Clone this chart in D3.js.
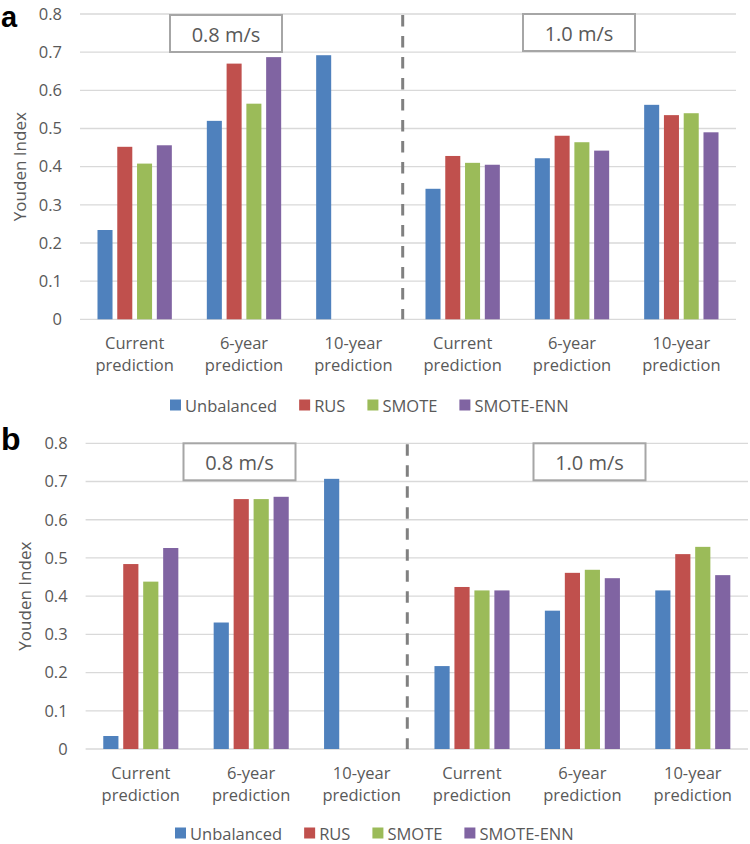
<!DOCTYPE html>
<html>
<head>
<meta charset="utf-8">
<script src="https://cdn.jsdelivr.net/npm/d3@7"></script>
<style>
  html, body { margin: 0; padding: 0; background: #ffffff; }
  svg { display: block; }
</style>
</head>
<body>
<svg id="chart" width="750" height="844"></svg>
<script>
// ---------- DATA ----------
const categories = ["Current prediction", "6-year prediction", "10-year prediction",
                    "Current prediction", "6-year prediction", "10-year prediction"];
const speedLabels = ["0.8 m/s", "1.0 m/s"];
const seriesNames = ["Unbalanced", "RUS", "SMOTE", "SMOTE-ENN"];
const yTicks = [0, 0.1, 0.2, 0.3, 0.4, 0.5, 0.6, 0.7, 0.8];

// Panel a
const aUnbalanced = [0.234, 0.520, 0.692, 0.342, 0.422, 0.562];
const aRUS        = [0.452, 0.670, null,  0.428, 0.481, 0.535];
const aSMOTE      = [0.408, 0.565, null,  0.410, 0.464, 0.540];
const aSMOTEENN   = [0.456, 0.687, null,  0.405, 0.442, 0.490];
// Panel b
const bUnbalanced = [0.034, 0.331, 0.707, 0.217, 0.362, 0.415];
const bRUS        = [0.484, 0.654, null,  0.424, 0.461, 0.510];
const bSMOTE      = [0.438, 0.654, null,  0.415, 0.469, 0.529];
const bSMOTEENN   = [0.526, 0.660, null,  0.415, 0.447, 0.455];

// ---------- STYLE ----------
const colors = ["#4F81BD", "#C0504D", "#9BBB59", "#8064A2"];
const textColor = "#595959";
const gridColor = "#d9d9d9";
const font = "'Open Sans', 'Noto Sans', sans-serif";

const panels = [
  { letter: "a", series: [aUnbalanced, aRUS, aSMOTE, aSMOTEENN],
    left: 80, right: 736, top: 14, bottom: 319.3, letterY: 26.5, letterSize: 29,
    dividerOffset: -5.3, boxes: [{x: 170, y: 15}, {x: 523, y: 14}],
    legendX: 170, legendY: 405 },
  { letter: "b", series: [bUnbalanced, bRUS, bSMOTE, bSMOTEENN],
    left: 85.6, right: 748, top: 443.3, bottom: 749, letterY: 450, letterSize: 32,
    dividerOffset: -9.5, boxes: [{x: 183.5, y: 443.3}, {x: 533.5, y: 443.3}],
    legendX: 175, legendY: 833 }
];

const svg = d3.select("#chart");

panels.forEach(p => {
  const g = svg.append("g");
  const idx = d3.range(categories.length);

  const x0 = d3.scaleBand().domain(idx).range([p.left, p.right])
    .paddingInner(0.32).paddingOuter(0.16);
  const x1 = d3.scaleBand().domain(d3.range(seriesNames.length))
    .range([0, x0.bandwidth()]).paddingInner(0.24).paddingOuter(0);
  const y = d3.scaleLinear().domain([0, 0.8]).range([p.bottom, p.top]);

  // gridlines
  g.append("g").selectAll("line").data(yTicks).join("line")
    .attr("x1", p.left).attr("x2", p.right)
    .attr("y1", d => y(d)).attr("y2", d => y(d))
    .attr("stroke", gridColor).attr("stroke-width", 1.3);

  // y axis labels via d3 axis
  const yAxis = d3.axisLeft(y).tickValues(yTicks).tickFormat(d => d === 0 ? "0" : d3.format(".1f")(d))
    .tickSize(0).tickPadding(18);
  const ya = g.append("g").attr("transform", `translate(${p.left},0)`).call(yAxis);
  ya.select(".domain").remove();
  ya.selectAll("text").attr("fill", textColor).style("font-family", font).style("font-size", "16.5px");

  // y title
  g.append("text")
    .attr("transform", `translate(${p.left - 61},${(p.top + p.bottom) / 2}) rotate(-90)`)
    .attr("text-anchor", "middle").attr("dominant-baseline", "central")
    .attr("fill", textColor).style("font-family", font).style("font-size", "17px")
    .text("Youden Index");

  // bars
  const barData = [];
  p.series.forEach((vals, si) => vals.forEach((v, ci) => {
    if (v !== null) barData.push({ si, ci, v });
  }));
  g.append("g").selectAll("rect").data(barData).join("rect")
    .attr("x", d => x0(d.ci) + x1(d.si))
    .attr("width", x1.bandwidth())
    .attr("y", d => y(d.v))
    .attr("height", d => y(0) - y(d.v))
    .attr("fill", d => colors[d.si]);

  // category labels (two lines)
  const cl = g.append("g").selectAll("text").data(idx).join("text")
    .attr("text-anchor", "middle")
    .attr("fill", textColor).style("font-family", font).style("font-size", "16.5px");
  cl.each(function(ci) {
    const s = categories[ci];
    const k = s.indexOf(" ");
    const cx = x0(ci) + x0.bandwidth() / 2;
    d3.select(this).append("tspan").attr("x", cx).attr("y", p.bottom + 30).text(s.slice(0, k));
    d3.select(this).append("tspan").attr("x", cx).attr("y", p.bottom + 52).text(s.slice(k + 1));
  });

  // dashed divider between the two speeds
  const divX = x0(3) - (x0.step() - x0.bandwidth()) / 2 + p.dividerOffset;
  g.append("line")
    .attr("x1", divX).attr("x2", divX)
    .attr("y1", p.top + 1).attr("y2", p.bottom)
    .attr("stroke", "#808080").attr("stroke-width", 3)
    .attr("stroke-dasharray", "11.5,9.5");

  // speed label boxes
  p.boxes.forEach((b, i) => {
    g.append("rect").attr("x", b.x).attr("y", b.y).attr("width", 112).attr("height", 37)
      .attr("fill", "#ffffff").attr("stroke", "#a6a6a6").attr("stroke-width", 2);
    g.append("text").attr("x", b.x + 56).attr("y", b.y + 19)
      .attr("text-anchor", "middle").attr("dominant-baseline", "central")
      .attr("fill", textColor).style("font-family", font).style("font-size", "20px")
      .text(speedLabels[i]);
  });

  // panel letter
  g.append("text").attr("x", 1).attr("y", p.letterY)
    .attr("fill", "#000").style("font-family", "'Liberation Sans', Arial, sans-serif")
    .style("font-weight", "bold").style("font-size", p.letterSize + "px").text(p.letter);

  // legend
  let lx = p.legendX;
  seriesNames.forEach((name, si) => {
    g.append("rect").attr("x", lx).attr("y", p.legendY - 5.5).attr("width", 11).attr("height", 11)
      .attr("fill", colors[si]);
    const t = g.append("text").attr("x", lx + 15).attr("y", p.legendY)
      .attr("dominant-baseline", "central")
      .attr("fill", textColor).style("font-family", font).style("font-size", "16.5px")
      .text(name);
    lx += 15 + t.node().getComputedTextLength() + 22;
  });
});
</script>
</body>
</html>
